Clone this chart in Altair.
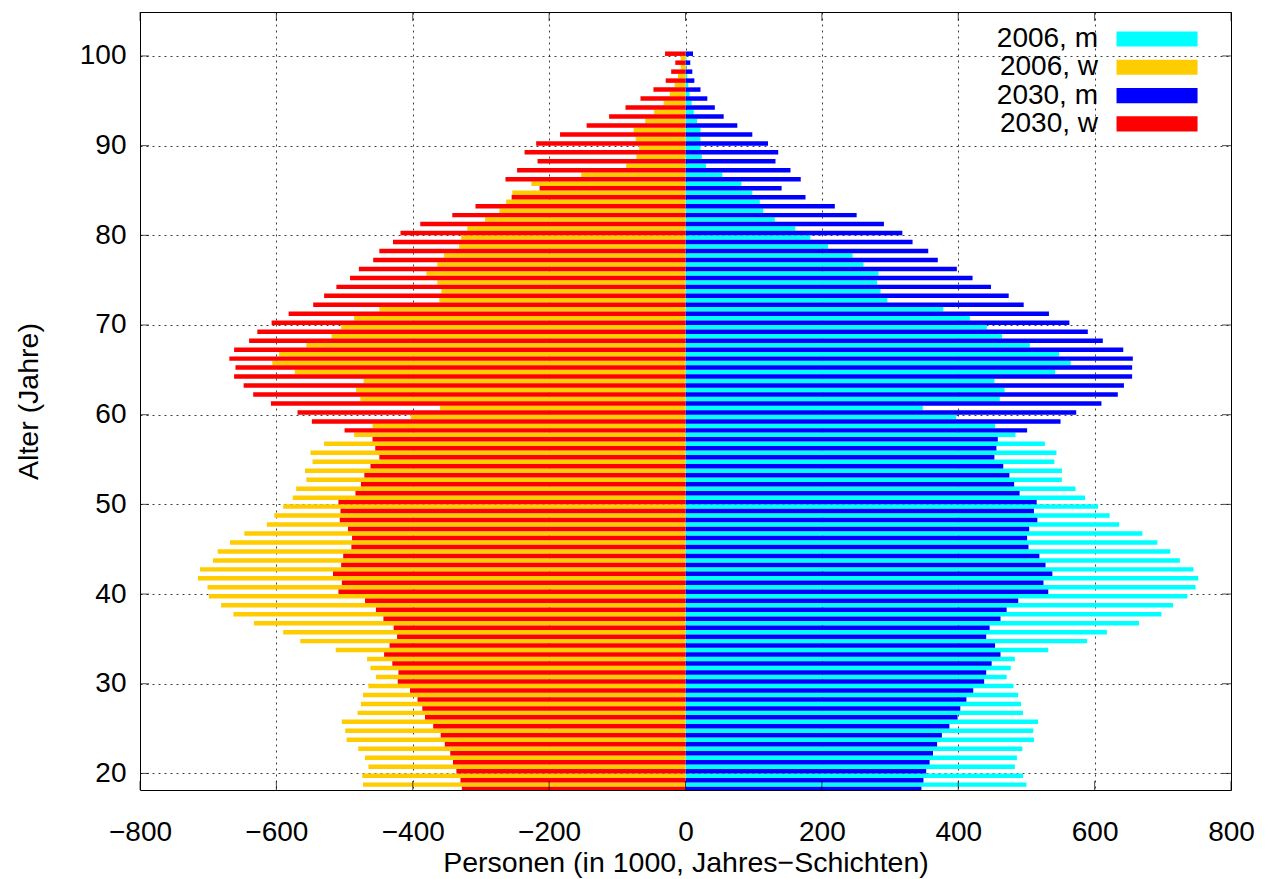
import altair as alt
import pandas as pd

# ---- data, values in 1000 persons ----
ages_2030 = list(range(18, 101))
ages_2006 = list(range(19, 101))

w_2030 = [328, 330, 336, 341, 345, 353, 359, 370, 382, 386,
          393, 404, 422, 421, 430, 442, 434, 423, 428, 443,
          454, 470, 509, 504, 517, 505, 502, 490, 489, 495,
          507, 506, 509, 484, 476, 471, 462, 449, 455, 459,
          500, 548, 569, 608, 634, 648, 662, 660, 669, 662,
          640, 628, 607, 582, 546, 530, 512, 492, 479, 458,
          449, 429, 418, 389, 342, 308, 255, 214, 264, 247,
          217, 236, 219, 184, 145, 112, 88, 66, 47, 29,
          21, 15, 30]
m_2030 = [346, 349, 353, 358, 363, 369, 376, 387, 399, 403,
          412, 422, 438, 441, 449, 462, 454, 441, 446, 462,
          471, 488, 532, 525, 538, 528, 519, 503, 501, 504,
          516, 511, 515, 490, 482, 475, 466, 453, 456, 458,
          501, 550, 573, 610, 634, 643, 655, 655, 656, 642,
          612, 590, 563, 533, 496, 474, 448, 421, 398, 370,
          356, 333, 318, 291, 251, 219, 176, 141, 169, 154,
          132, 136, 121, 98, 76, 56, 43, 32, 22, 13,
          10, 7, 11]
w_2006 = [473, 474, 465, 470, 480, 497, 499, 504, 481, 476,
          473, 465, 454, 462, 467, 513, 565, 590, 633, 663,
          681, 699, 701, 715, 712, 693, 686, 668, 647, 614,
          603, 590, 576, 571, 556, 558, 547, 550, 530, 486,
          459, 403, 360, 477, 483, 472, 573, 606, 596, 556,
          519, 505, 486, 449, 361, 358, 364, 380, 364, 354,
          332, 329, 320, 294, 273, 263, 254, 226, 153, 87,
          72, 68, 73, 76, 59, 46, 32, 23, 16, 11,
          7, 7]
m_2006 = [500, 495, 483, 486, 494, 511, 510, 517, 495, 492,
          488, 481, 471, 477, 483, 532, 589, 618, 665, 698,
          715, 736, 748, 752, 745, 725, 711, 692, 670, 636,
          622, 605, 586, 572, 552, 552, 541, 544, 527, 484,
          454, 397, 348, 461, 468, 453, 542, 565, 548, 505,
          464, 442, 417, 378, 296, 286, 281, 283, 261, 245,
          209, 183, 161, 131, 114, 109, 98, 82, 54, 30,
          24, 22, 22, 22, 17, 12, 9, 6, 4, 2.5,
          1.5, 1.5]

series = ["2006, m", "2006, w", "2030, m", "2030, w"]
colors = ["#00ffff", "#ffcc00", "#0000ff", "#ff0000"]

x_ticks = [-800, -600, -400, -200, 0, 200, 400, 600, 800]
y_ticks = [20, 30, 40, 50, 60, 70, 80, 90, 100]

# ---- build table ----
rows = []
for a, v in zip(ages_2006, m_2006):
    rows.append({"s": "2006, m", "lo": a - 0.5, "hi": a, "v": v, "z": 0})
for a, v in zip(ages_2006, w_2006):
    rows.append({"s": "2006, w", "lo": a - 0.5, "hi": a, "v": -v, "z": 0})
for a, v in zip(ages_2030, m_2030):
    rows.append({"s": "2030, m", "lo": a, "hi": a + 0.5, "v": v, "z": 0})
for a, v in zip(ages_2030, w_2030):
    rows.append({"s": "2030, w", "lo": a, "hi": a + 0.5, "v": -v, "z": 0})
df = pd.DataFrame(rows)

xt = pd.DataFrame({"v": x_ticks})
yt = pd.DataFrame({"lo": y_ticks})

W, H = 1091, 778
FONT = "Liberation Sans"
FS = 28

xscale = alt.Scale(domain=[-800, 800], nice=False, zero=False)
yscale = alt.Scale(domain=[18.15, 104.9], nice=False, zero=False)

xaxis = alt.Axis(values=x_ticks, title="Personen (in 1000, Jahres\u2212Schichten)",
                 grid=True, ticks=False, domain=False, labelFlush=False,
                 labelPadding=28, titleY=72, titleBaseline="middle")
yaxis = alt.Axis(values=y_ticks, title="Alter (Jahre)", grid=True,
                 ticks=False, domain=False, labelPadding=14, labelFlush=False,
                 titleX=-112, titleY=H / 2, titleBaseline="middle")

bars = alt.Chart(df).mark_bar(clip=True, strokeWidth=0).encode(
    x=alt.X("v:Q", scale=xscale, axis=xaxis),
    x2="z:Q",
    y=alt.Y("lo:Q", scale=yscale, axis=yaxis),
    y2="hi:Q",
    color=alt.Color("s:N", scale=alt.Scale(domain=series, range=colors),
                    legend=alt.Legend(title=None, orient="none",
                                      legendX=930, legendY=13,
                                      symbolType="M4.02,-0.93H14.03V0.93H4.02Z",
                                      symbolSize=262, symbolStrokeWidth=0,
                                      symbolOpacity=1, symbolOffset=0,
                                      labelAlign="right", labelOffset=0,
                                      labelFontSize=FS, labelFont=FONT,
                                      labelColor="black", rowPadding=0.3,
                                      padding=0, labelLimit=300)),
)

tick_b = alt.Chart(xt).mark_tick(orient="vertical", color="black", thickness=1, size=9).encode(
    x=alt.X("v:Q", scale=xscale, axis=xaxis), y=alt.value(H - 4.5))
tick_t = alt.Chart(xt).mark_tick(orient="vertical", color="black", thickness=1, size=9).encode(
    x=alt.X("v:Q", scale=xscale, axis=xaxis), y=alt.value(4.5))
tick_l = alt.Chart(yt).mark_tick(orient="horizontal", color="black", thickness=1, size=9).encode(
    y=alt.Y("lo:Q", scale=yscale, axis=yaxis), x=alt.value(4.5))
tick_r = alt.Chart(yt).mark_tick(orient="horizontal", color="black", thickness=1, size=9).encode(
    y=alt.Y("lo:Q", scale=yscale, axis=yaxis), x=alt.value(W - 4.5))

chart = alt.layer(bars, tick_b, tick_t, tick_l, tick_r).properties(
    width=W, height=H,
    autosize=alt.AutoSizeParams(type="none"),
    padding={"left": 140, "top": 12, "right": 35, "bottom": 89},
    background="white",
).configure_view(
    stroke="black", strokeWidth=1
).configure_axis(
    labelFont=FONT, labelFontSize=FS, labelColor="black",
    titleFont=FONT, titleFontSize=28.5, titleColor="black", titleFontWeight="normal",
    gridColor="#000000", gridDash=[2, 4], gridWidth=1, gridOpacity=0.75,
)

chart.save("out.html", embed_options={"renderer": "svg", "actions": False})
